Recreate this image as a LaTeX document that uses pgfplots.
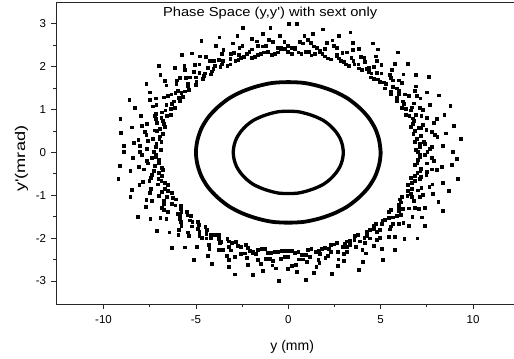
\documentclass[border=0pt]{standalone}
\usepackage{fontspec}
\setmainfont{Liberation Sans}
\usepackage{pgfplots}
\pgfplotsset{compat=1.18}
\begin{document}
\begin{tikzpicture}
\begin{axis}[
 name=ax,
 scale only axis,
 width=458pt, height=301.7pt,
 xmin=-12.57, xmax=12.25, ymin=-3.54, ymax=3.51,
 xtick={-10,-5,0,5,10}, minor x tick num=1,
 ytick={-3,-2,-1,0,1,2,3}, minor y tick num=1,
 tick align=outside, tick pos=left,
 major tick length=5pt, minor tick length=3pt,
 axis line style={line width=1pt, black!85},
 every tick/.style={line width=0.8pt, black!85},
 xticklabel style={font=\fontsize{11.5}{11.5}\selectfont, yshift=-2.5pt},
 yticklabel style={font=\fontsize{11.5}{11.5}\selectfont, xshift=-1.5pt},
 /pgf/number format/assume math mode=true,
 xlabel={y (mm)},
 ylabel={\scalebox{1.3}[1]{y\textquotesingle(mrad)}},
 label style={font=\fontsize{14}{14}\selectfont},
 xlabel style={at={(axis description cs:0.515,-0.1525)}, anchor=base},
 ylabel style={at={(axis description cs:-0.0753,0.481)}, anchor=center},
]
% outer scattered band
\addplot[only marks, mark=square*, mark size=1.4pt, mark options={line width=0pt, fill=black, draw=black}] coordinates {
(7.03,0) (7.65,0.07) (8.90,0)
(7.14,0.12) (7.38,0.19) (8.39,0.14)
(6.86,0.24) (8.08,0.35) (9.35,0.31)
(7.19,0.38) (7.77,0.47) (8.54,0.44)
(6.88,0.49) (7.20,0.57) (8.95,0.61)
(6.66,0.60) (8.05,0.77) (7.87,0.69)
(6.80,0.73) (7.21,0.84) (8.46,0.88)
(6.56,0.84) (7.30,0.99) (8.78,1.08)
(6.65,0.98) (6.68,1.05) (7.67,1.11)
(6.15,1.04) (7.16,1.26) (8.15,1.33)
(6.19,1.19) (6.52,1.31) (7.49,1.40)
(5.90,1.27) (6.92,1.54) (6.84,1.44)
(5.58,1.35) (5.87,1.49) (7.60,1.76)
(5.66,1.52) (6.01,1.68) (6.92,1.80)
(5.31,1.59) (5.55,1.73) (6.24,1.82)
(4.97,1.65) (5.61,1.92) (6.47,2.07)
(4.62,1.71) (4.81,1.86) (5.79,2.07)
(4.50,1.84) (4.66,1.99) (5.92,2.33)
(4.28,1.95) (4.76,2.24) (4.79,2.14)
(3.83,1.96) (4.13,2.20) (4.85,2.40)
(3.58,2.05) (3.53,2.14) (4.58,2.54)
(3.13,2.05) (3.51,2.39) (3.81,2.42)
(2.86,2.14) (2.93,2.32) (3.52,2.55)
(2.61,2.25) (2.64,2.43) (3.37,2.80)
(2.13,2.19) (2.39,2.61) (2.75,2.72)
(1.85,2.29) (1.73,2.37) (2.11,2.56)
(1.46,2.29) (1.39,2.47) (1.90,2.87)
(1.12,2.34) (1.06,2.63) (1.35,2.76)
(0.72,2.29) (0.62,2.57) (0.88,2.71)
(0.38,2.41) (0.19,2.44) (0.49,3.00)
(0.00,2.34) (-0.21,2.58) (0.05,3.00)
(-0.38,2.41) (-0.58,2.43) (-0.44,2.72)
(-0.72,2.29) (-1.06,2.63) (-0.96,2.91)
(-1.12,2.34) (-1.39,2.47) (-1.35,2.76)
(-1.46,2.29) (-1.96,2.64) (-1.69,2.59)
(-1.79,2.22) (-2.10,2.34) (-2.43,2.90)
(-2.25,2.29) (-2.64,2.43) (-2.75,2.72)
(-2.56,2.21) (-2.93,2.32) (-3.01,2.54)
(-2.86,2.14) (-3.51,2.39) (-3.72,2.68)
(-3.13,2.05) (-3.53,2.14) (-3.93,2.49)
(-3.58,2.05) (-4.00,2.14) (-4.70,2.60)
(-3.96,2.02) (-4.76,2.24) (-4.44,2.22)
(-4.13,1.89) (-4.81,2.05) (-5.23,2.31)
(-4.50,1.84) (-4.81,1.86) (-5.76,2.28)
(-4.62,1.71) (-5.61,1.92) (-5.62,2.02)
(-4.97,1.65) (-5.55,1.73) (-6.12,1.97)
(-5.41,1.61) (-6.01,1.68) (-6.99,2.01)
(-5.36,1.45) (-6.66,1.66) (-6.92,1.80)
(-5.78,1.39) (-6.10,1.38) (-6.59,1.56)
(-5.90,1.27) (-6.52,1.31) (-7.67,1.60)
(-6.19,1.19) (-7.16,1.26) (-7.49,1.40)
(-6.15,1.04) (-7.13,1.11) (-7.48,1.23)
(-6.65,0.98) (-6.84,0.93) (-8.59,1.22)
(-6.56,0.84) (-7.21,0.84) (-8.31,1.03)
(-6.80,0.73) (-7.10,0.69) (-7.99,0.84)
(-6.66,0.60) (-7.93,0.62) (-9.08,0.78)
(-7.12,0.50) (-7.77,0.47) (-8.46,0.58)
(-6.94,0.37) (-7.34,0.32) (-9.04,0.46)
(-6.86,0.24) (-8.37,0.21) (-8.11,0.28)
(-7.14,0.12) (-7.65,0.07) (-8.89,0.15)
(-7.28,0) (-7.90,-0.07) (-8.90,0)
(-7.14,-0.12) (-7.63,-0.20) (-8.39,-0.14)
(-6.99,-0.24) (-8.08,-0.35) (-9.10,-0.31)
(-6.82,-0.36) (-7.28,-0.44) (-8.54,-0.44)
(-6.99,-0.49) (-7.44,-0.59) (-9.19,-0.62)
(-7.03,-0.62) (-8.05,-0.77) (-7.87,-0.69)
(-6.69,-0.72) (-7.45,-0.86) (-8.46,-0.88)
(-6.68,-0.85) (-6.84,-0.93) (-8.54,-1.05)
(-6.30,-0.94) (-7.36,-1.14) (-7.67,-1.11)
(-6.26,-1.06) (-6.72,-1.20) (-7.71,-1.27)
(-6.30,-1.21) (-6.74,-1.35) (-8.14,-1.50)
(-5.79,-1.25) (-6.92,-1.54) (-7.46,-1.56)
(-5.78,-1.39) (-5.87,-1.49) (-6.59,-1.56)
(-5.46,-1.47) (-5.82,-1.63) (-7.11,-1.84)
(-5.31,-1.59) (-5.91,-1.82) (-6.43,-1.87)
(-4.88,-1.63) (-5.44,-1.87) (-5.94,-1.92)
(-4.87,-1.79) (-4.81,-1.86) (-6.29,-2.23)
(-4.42,-1.82) (-4.66,-1.99) (-5.60,-2.22)
(-4.20,-1.92) (-4.19,-2.01) (-4.94,-2.20)
(-3.76,-1.93) (-4.26,-2.26) (-5.12,-2.52)
(-3.64,-2.09) (-3.77,-2.27) (-4.33,-2.42)
(-3.19,-2.08) (-3.19,-2.20) (-4.15,-2.61)
(-2.81,-2.10) (-3.21,-2.51) (-3.31,-2.42)
(-2.56,-2.21) (-2.55,-2.37) (-3.19,-2.67)
(-2.17,-2.23) (-2.24,-2.47) (-2.90,-2.85)
(-1.88,-2.33) (-1.73,-2.37) (-2.17,-2.63)
(-1.43,-2.25) (-1.48,-2.61) (-1.90,-2.87)
(-1.12,-2.34) (-1.00,-2.49) (-1.35,-2.76)
(-0.73,-2.33) (-0.66,-2.71) (-0.85,-2.64)
(-0.36,-2.30) (-0.19,-2.44) (-0.49,-3.00)
(0.00,-2.30) (0.21,-2.65) (0.00,-2.72)
(0.37,-2.34) (0.60,-2.50) (0.45,-2.79)
(0.76,-2.40) (1.03,-2.56) (0.98,-2.98)
(1.08,-2.27) (1.53,-2.67) (1.39,-2.82)
(1.49,-2.32) (1.73,-2.37) (1.69,-2.59)
(1.82,-2.26) (2.17,-2.41) (2.37,-2.83)
(2.21,-2.25) (2.72,-2.50) (2.67,-2.65)
(2.47,-2.15) (3.02,-2.38) (3.01,-2.54)
(2.96,-2.20) (3.19,-2.20) (3.82,-2.74)
(3.19,-2.08) (3.65,-2.21) (4.04,-2.55)
(3.58,-2.05) (3.87,-2.08) (4.20,-2.36)
(3.76,-1.93) (4.62,-2.18) (5.12,-2.52)
(4.28,-1.95) (4.81,-2.05) (5.08,-2.26)
(4.42,-1.82) (4.81,-1.86) (5.76,-2.28)
(4.62,-1.71) (5.78,-1.97) (5.45,-1.97)
(5.06,-1.68) (5.55,-1.73) (6.29,-2.02)
(5.22,-1.57) (6.01,-1.68) (6.99,-2.01)
(5.66,-1.52) (5.87,-1.49) (6.53,-1.71)
(5.58,-1.35) (6.72,-1.50) (7.40,-1.72)
(6.00,-1.29) (6.52,-1.31) (7.25,-1.52)
(6.09,-1.17) (7.38,-1.30) (7.06,-1.33)
(6.15,-1.04) (6.68,-1.05) (8.38,-1.36)
(6.65,-0.98) (7.30,-0.99) (8.13,-1.16)
(6.68,-0.85) (7.21,-0.84) (7.84,-0.97)
(6.69,-0.72) (7.81,-0.75) (8.70,-0.91)
(6.66,-0.60) (7.20,-0.57) (8.36,-0.72)
(6.99,-0.49) (7.52,-0.46) (9.19,-0.62)
(7.19,-0.38) (8.33,-0.35) (8.05,-0.41)
(6.99,-0.24) (7.88,-0.20) (8.85,-0.30)
(7.14,-0.12) (7.40,-0.06) (9.14,-0.15)
};
% dense inner part of the band
\addplot[only marks, mark=square*, mark size=1.4pt, mark options={line width=0pt, fill=black, draw=black}] coordinates {
(6.90,0.06) (7.53,0) (7.13,0.19) (7.77,0.13) (6.97,0.31) (7.36,0.25) (6.78,0.42) (7.93,0.41)
(7.08,0.56) (7.48,0.52) (6.74,0.66) (7.27,0.64) (6.74,0.79) (7.51,0.80) (6.37,0.88) (6.91,0.87)
(6.35,1.01) (7.11,1.04) (6.28,1.13) (6.82,1.14) (5.88,1.20) (6.95,1.31) (6.00,1.37) (6.32,1.35)
(5.58,1.42) (5.99,1.43) (5.25,1.49) (6.14,1.62) (5.19,1.63) (5.68,1.68) (4.84,1.70) (5.50,1.80)
(4.48,1.75) (5.04,1.84) (4.35,1.88) (5.05,2.04) (3.98,1.93) (4.35,1.97) (3.80,2.05) (4.17,2.11)
(3.29,2.02) (3.95,2.23) (3.03,2.11) (3.42,2.21) (2.74,2.19) (3.16,2.33) (2.30,2.17) (2.65,2.28)
(2.00,2.24) (2.48,2.49) (1.70,2.34) (1.98,2.42) (1.26,2.26) (1.57,2.43) (0.93,2.35) (1.24,2.55)
(0.55,2.33) (0.81,2.54) (0.18,2.30) (0.39,2.44)
(-0.19,2.41) (0,2.48) (-0.55,2.33) (-0.39,2.44) (-0.90,2.28) (-0.83,2.57) (-1.30,2.33) (-1.20,2.48)
(-1.64,2.28) (-1.62,2.49) (-1.96,2.21) (-1.95,2.40) (-2.39,2.23) (-2.48,2.49) (-2.69,2.16) (-2.65,2.28)
(-3.13,2.18) (-3.11,2.29) (-3.29,2.02) (-3.59,2.30) (-3.67,2.00) (-3.77,2.15) (-4.05,1.95) (-4.24,2.14)
(-4.20,1.82) (-4.35,1.97) (-4.57,1.78) (-5.05,2.04) (-5.01,1.75) (-5.12,1.87) (-5.01,1.58) (-5.32,1.75)
(-5.44,1.54) (-5.87,1.73) (-5.58,1.42) (-6.05,1.60) (-5.69,1.30) (-5.99,1.43) (-5.88,1.20) (-6.32,1.35)
(-6.28,1.13) (-6.74,1.28) (-6.35,1.01) (-6.59,1.11) (-6.37,0.88) (-7.34,1.07) (-6.86,0.80) (-7.14,0.90)
(-6.74,0.66) (-7.16,0.77) (-6.95,0.55) (-7.63,0.67) (-6.78,0.42) (-7.24,0.51) (-6.97,0.31) (-7.68,0.40)
(-7.13,0.19) (-7.61,0.26) (-6.90,0.06) (-8.02,0.14)
(-7.15,-0.06) (-8.03,0) (-7.01,-0.18) (-7.39,-0.13) (-7.22,-0.31) (-7.61,-0.26) (-6.78,-0.42) (-7.80,-0.40)
(-6.84,-0.55) (-7.37,-0.52) (-6.86,-0.67) (-7.51,-0.66) (-6.50,-0.77) (-7.04,-0.75) (-6.50,-0.90) (-7.50,-0.94)
(-6.57,-1.04) (-6.99,-1.02) (-6.06,-1.10) (-6.71,-1.13) (-6.10,-1.24) (-6.84,-1.29) (-5.79,-1.33) (-6.53,-1.39)
(-5.47,-1.40) (-5.99,-1.43) (-5.25,-1.49) (-5.85,-1.56) (-5.19,-1.63) (-5.78,-1.71) (-4.84,-1.70) (-5.23,-1.73)
(-4.48,-1.75) (-5.37,-1.95) (-4.43,-1.91) (-4.81,-1.95) (-3.98,-1.93) (-4.43,-2.01) (-3.74,-2.02) (-4.30,-2.16)
(-3.29,-2.02) (-3.70,-2.11) (-3.03,-2.11) (-3.53,-2.27) (-2.74,-2.19) (-3.11,-2.29) (-2.30,-2.17) (-2.88,-2.45)
(-2.07,-2.31) (-2.33,-2.36) (-1.64,-2.28) (-1.92,-2.36) (-1.26,-2.26) (-1.64,-2.52) (-0.93,-2.35) (-1.20,-2.48)
(-0.55,-2.33) (-0.81,-2.54) (-0.18,-2.30) (-0.39,-2.48)
(0.18,-2.30) (0,-2.44) (0.55,-2.33) (0.42,-2.62) (0.95,-2.39) (0.80,-2.50) (1.26,-2.26) (1.18,-2.45)
(1.67,-2.30) (1.64,-2.52) (2.00,-2.24) (2.01,-2.46) (2.30,-2.17) (2.29,-2.32) (2.64,-2.12) (2.70,-2.32)
(3.08,-2.14) (3.16,-2.33) (3.35,-2.06) (3.36,-2.17) (3.61,-1.96) (4.02,-2.27) (4.12,-1.99) (4.17,-2.11)
(4.28,-1.86) (4.43,-2.01) (4.64,-1.80) (4.97,-2.00) (4.75,-1.67) (4.95,-1.81) (5.10,-1.61) (5.50,-1.80)
(5.44,-1.54) (5.68,-1.68) (5.47,-1.40) (6.24,-1.65) (6.00,-1.37) (6.09,-1.46) (5.99,-1.22) (6.21,-1.33)
(6.06,-1.10) (6.84,-1.29) (6.45,-1.02) (6.82,-1.14) (6.49,-0.90) (7.11,-1.04) (6.50,-0.77) (7.03,-0.89)
(6.86,-0.67) (7.64,-0.81) (6.84,-0.55) (7.15,-0.63) (7.16,-0.44) (7.48,-0.52) (6.84,-0.30) (7.80,-0.40)
(7.01,-0.18) (7.49,-0.26) (7.15,-0.06) (7.77,-0.13)
};
% middle ring
\addplot[smooth, line width=3.8pt, black] coordinates {
(5.00,0.00) (4.92,0.28) (4.70,0.56) (4.33,0.82) (3.83,1.05) (3.21,1.26) (2.50,1.42) (1.71,1.54) (0.87,1.62) (0.00,1.64)
(-0.87,1.62) (-1.71,1.54) (-2.50,1.42) (-3.21,1.26) (-3.83,1.05) (-4.33,0.82) (-4.70,0.56) (-4.92,0.28) (-5.00,0.00)
(-4.92,-0.28) (-4.70,-0.56) (-4.33,-0.82) (-3.83,-1.05) (-3.21,-1.26) (-2.50,-1.42) (-1.71,-1.54) (-0.87,-1.62) (0.00,-1.64)
(0.87,-1.62) (1.71,-1.54) (2.50,-1.42) (3.21,-1.26) (3.83,-1.05) (4.33,-0.82) (4.70,-0.56) (4.92,-0.28) (5.00,0.00) (4.92,0.28)
};
% inner ring
\addplot[smooth, line width=3.3pt, black] coordinates {
(2.98,0.00) (2.93,0.17) (2.80,0.33) (2.58,0.48) (2.28,0.62) (1.92,0.74) (1.49,0.83) (1.02,0.90) (0.52,0.95) (0.00,0.96)
(-0.52,0.95) (-1.02,0.90) (-1.49,0.83) (-1.92,0.74) (-2.28,0.62) (-2.58,0.48) (-2.80,0.33) (-2.93,0.17) (-2.98,0.00)
(-2.93,-0.17) (-2.80,-0.33) (-2.58,-0.48) (-2.28,-0.62) (-1.92,-0.74) (-1.49,-0.83) (-1.02,-0.90) (-0.52,-0.95) (0.00,-0.96)
(0.52,-0.95) (1.02,-0.90) (1.49,-0.83) (1.92,-0.74) (2.28,-0.62) (2.58,-0.48) (2.80,-0.33) (2.93,-0.17) (2.98,0.00) (2.93,0.17)
};
\node[anchor=base, inner sep=0pt, font=\fontsize{13}{13}\selectfont] at (axis description cs:0.467,0.951) {\scalebox{1.13}[1]{Phase Space (y,y\textquotesingle) with sext only}};
\end{axis}
\pgfresetboundingbox
\path[use as bounding box] ([xshift=-56pt,yshift=-54.3pt]ax.south west) rectangle ([xshift=-0.6pt,yshift=2pt]ax.north east);
\end{tikzpicture}
\end{document}
